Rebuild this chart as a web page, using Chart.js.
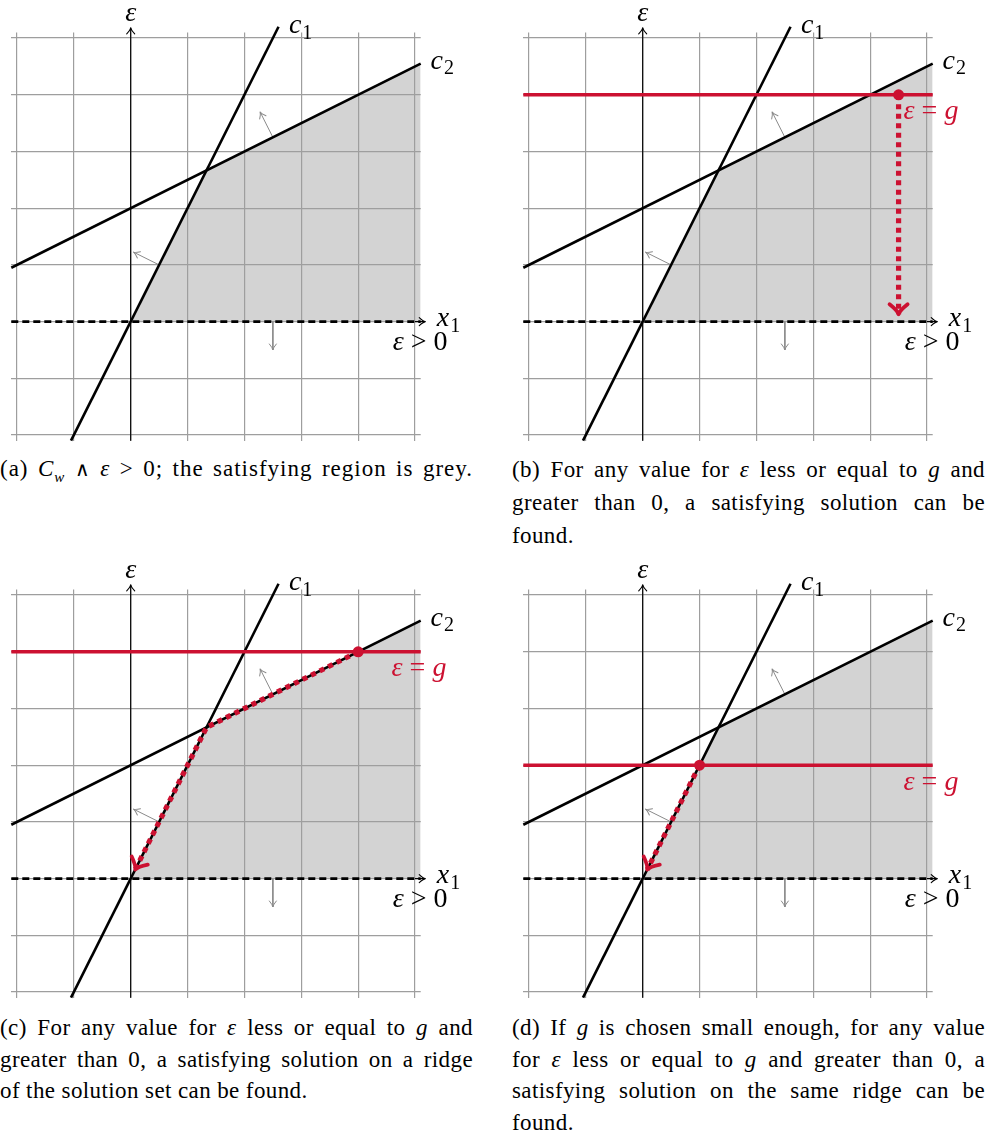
<!DOCTYPE html>
<html><head><meta charset="utf-8">
<script src="https://cdn.jsdelivr.net/npm/chart.js@4.4.0/dist/chart.umd.min.js"></script>
<style>
html,body{margin:0;padding:0;background:#fff;overflow:hidden;}
body{width:989px;height:1135px;position:relative;font-family:"Liberation Serif","Times New Roman",serif;color:#000;}
canvas{position:absolute;}
.cap{position:absolute;width:473px;font-size:23px;line-height:32px;letter-spacing:0.4px;}
.cap div{text-align:justify;text-align-last:justify;white-space:nowrap;}
.cap div.last{text-align-last:left;}
.wedge{font-family:"DejaVu Sans";font-weight:200;font-size:20px;}
</style></head><body>
<canvas id="pa" width="475" height="450" style="left:0;top:0;width:475px;height:450px"></canvas>
<canvas id="pb" width="475" height="450" style="left:512px;top:0;width:475px;height:450px"></canvas>
<canvas id="pc" width="475" height="450" style="left:0;top:557px;width:475px;height:450px"></canvas>
<canvas id="pd" width="475" height="450" style="left:512px;top:557px;width:475px;height:450px"></canvas>

<div class="cap" style="left:0;top:453px;letter-spacing:1px"><div>(a) <i>C<sub style="font-size:15px;line-height:0">w</sub></i> <span class="wedge">∧</span> <i>ε</i> &gt; 0; the satisfying region is grey.</div></div>
<div class="cap" style="left:512px;top:453px;line-height:33px">
<div>(b) For any value for <i>ε</i> less or equal to <i>g</i> and</div>
<div>greater than 0, a satisfying solution can be</div>
<div class="last">found.</div></div>
<div class="cap" style="left:0;top:1012px;line-height:31.5px">
<div>(c) For any value for <i>ε</i> less or equal to <i>g</i> and</div>
<div>greater than 0, a satisfying solution on a ridge</div>
<div class="last">of the solution set can be found.</div></div>
<div class="cap" style="left:512px;top:1012px;line-height:31.5px">
<div>(d) If <i>g</i> is chosen small enough, for any value</div>
<div>for <i>ε</i> less or equal to <i>g</i> and greater than 0, a</div>
<div>satisfying solution on the same ridge can be</div>
<div class="last">found.</div></div>

<script>
// ---- data (in plot units) ----
const gridTicks = [-2, -1, 0, 1, 2, 3, 4, 5];
const axisMin = -2.1, axisMax = 5.1;
const c1Line = [[-1.05, -2.1], [2.6, 5.2]];
const c2Line = [[-2.1, 0.95], [5.1, 4.55]];
const regionTop = [[0, 0], [4/3, 8/3], [5.1, 4.55]];
const epsZeroLine = [[-2.1, 0], [5.1, 0]];
const epsAxis = [[0, -2.1], [0, 5.18]];
const x1AxisTip = [[5.0, 0], [5.18, 0]];
const normalC1 = [[0.5, 1], [0.05, 1.225]];
const normalC2 = [[2.5, 3.25], [2.276, 3.697]];
const normalEps = [[2.5, 0], [2.5, -0.5]];
const gLevels = [null, 4, 4, 2];
const gDots = [null, [4.5, 4], [4, 4], [1, 2]];
const gPaths = [null, [[4.5, 4], [4.5, 0.13]], [[4, 4], [4/3, 8/3], [0.08, 0.16]], [[1, 2], [0.08, 0.16]]];
const axisLabels = [
  {parts: [['ε', 'i']], x: 0, y: 5.42},
  {parts: [['c', 'i'], ['1', 's']], x: 2.98, y: 5.2},
  {parts: [['c', 'i'], ['2', 's']], x: 5.47, y: 4.57},
  {parts: [['x', 'i'], ['1', 's']], x: 5.58, y: 0.03},
  {parts: [['ε', 'i'], [' > ', 'r'], ['0', 'r']], x: 5.09, y: -0.38}
];
const gLabel = {parts: [['ε', 'i'], [' = ', 'r'], ['g', 'i']], x: 5.07, dy: -0.32};

// ---- style ----
const RED = '#cc1131';
const GRID = '#9e9e9e';
const FONT = '"Liberation Serif", "Times New Roman", serif';
const LABEL_SIZE = 28;

function pts(a) { return a.map(p => ({x: p[0], y: p[1]})); }
function lineDs(arr, color, width, order, extra) {
  return Object.assign({data: pts(arr), borderColor: color, borderWidth: width, pointRadius: 0,
    fill: false, order: order, clip: false, tension: 0, borderCapStyle: 'butt'}, extra || {});
}
function drawMath(ctx, parts, cx, cy, size, color) {
  const fonts = {i: 'italic ' + size + 'px ' + FONT, r: size + 'px ' + FONT, s: Math.round(size * 0.7) + 'px ' + FONT};
  let w = 0;
  const ws = parts.map(p => { ctx.font = fonts[p[1]]; const m = ctx.measureText(p[0]).width; w += m; return m; });
  let x = cx - w / 2;
  ctx.save();
  ctx.fillStyle = color; ctx.textAlign = 'left'; ctx.textBaseline = 'alphabetic';
  parts.forEach((p, k) => {
    ctx.font = fonts[p[1]];
    ctx.fillText(p[0], x, cy + size * 0.23 + (p[1] === 's' ? size * 0.2 : 0));
    x += ws[k] + (p[1] === 'i' && parts[k + 1] && parts[k + 1][1] === 's' ? 1 : 0);
  });
  ctx.restore();
}
function drawHead(ctx, x0, y0, x1, y1, o) {
  const ang = Math.atan2(y1 - y0, x1 - x0);
  ctx.save(); ctx.translate(x1, y1); ctx.rotate(ang);
  ctx.strokeStyle = o.color; ctx.lineWidth = o.w; ctx.lineCap = 'round'; ctx.lineJoin = 'round';
  ctx.setLineDash([]);
  ctx.beginPath();
  ctx.moveTo(-o.len, -o.half); ctx.quadraticCurveTo(-o.len * 0.35, -o.half * 0.1, 0, 0);
  ctx.quadraticCurveTo(-o.len * 0.35, o.half * 0.1, -o.len, o.half);
  ctx.stroke(); ctx.restore();
}
const deco = {
  id: 'deco',
  afterDatasetsDraw(chart, args, opts) {
    const ctx = chart.ctx, X = chart.scales.x, Y = chart.scales.y;
    chart.data.datasets.forEach((d, i) => {
      if (!d.arrow) return;
      const el = chart.getDatasetMeta(i).data;
      const a = el[el.length - 2], b = el[el.length - 1];
      drawHead(ctx, a.x, a.y, b.x, b.y, d.arrow);
    });
    axisLabels.forEach(L => drawMath(ctx, L.parts, X.getPixelForValue(L.x), Y.getPixelForValue(L.y), LABEL_SIZE, '#000'));
    const g = gLevels[opts.k];
    if (g !== null) drawMath(ctx, gLabel.parts, X.getPixelForValue(gLabel.x), Y.getPixelForValue(g + gLabel.dy), LABEL_SIZE, RED);
  }
};

function makePanel(id, k) {
  const ds = [];
  ds.push({data: pts(regionTop), fill: 'origin', backgroundColor: '#d3d3d3', borderColor: 'rgba(0,0,0,0)',
    borderWidth: 0, pointRadius: 0, order: 30});
  const thinHead = {len: 6, half: 4, w: 1.1, color: '#000'};
  const greyHead = {len: 6, half: 3.5, w: 1, color: '#8a8a8a'};
  ds.push(lineDs(epsAxis, '#000', 1.2, 20, {arrow: thinHead}));
  ds.push(lineDs(x1AxisTip, '#000', 1.2, 20, {arrow: thinHead}));
  ds.push(lineDs(normalC1, '#8a8a8a', 1, 19, {arrow: greyHead}));
  ds.push(lineDs(normalC2, '#8a8a8a', 1, 19, {arrow: greyHead}));
  ds.push(lineDs(normalEps, '#8a8a8a', 1, 19, {arrow: greyHead}));
  ds.push(lineDs(epsZeroLine, '#000', 2.8, 12, {borderDash: [7, 4]}));
  ds.push(lineDs(c1Line, '#000', 2.6, 10));
  ds.push(lineDs(c2Line, '#000', 2.6, 10));
  if (gLevels[k] !== null) {
    const g = gLevels[k];
    ds.push(lineDs([[axisMin, g], [axisMax, g]], RED, 3.6, 6));
    ds.push(lineDs(gPaths[k], RED, 5.2, 3, {borderDash: [5, 4.5], borderJoinStyle: 'miter',
      arrow: {len: 10, half: 9, w: 3.8, color: RED}}));
    ds.push({data: pts([gDots[k]]), showLine: false, pointRadius: 5.5, pointBackgroundColor: RED,
      pointBorderWidth: 0, order: 1, clip: false});
  }
  const scale = {
    type: 'linear', min: axisMin, max: axisMax,
    afterBuildTicks: s => { s.ticks = gridTicks.map(v => ({value: v})); },
    ticks: {display: false},
    grid: {color: GRID, lineWidth: 1.2, drawTicks: false},
    border: {display: false}
  };
  new Chart(document.getElementById(id), {
    type: 'line',
    data: {datasets: ds},
    options: {
      responsive: false, animation: false, devicePixelRatio: 1, events: [],
      layout: {padding: {left: 11.3, top: 32.4, right: 54.3, bottom: 9.3}},
      plugins: {legend: {display: false}, tooltip: {enabled: false}, filler: {drawTime: 'beforeDraw'}, deco: {k: k}},
      scales: {x: Object.assign({}, scale), y: Object.assign({}, scale)}
    },
    plugins: [deco]
  });
}
function build() { ['pa', 'pb', 'pc', 'pd'].forEach((id, k) => makePanel(id, k)); }
const fontLoads = [
  'italic 28px "Liberation Serif"', '28px "Liberation Serif"', '20px "Liberation Serif"'
].map(f => document.fonts.load(f, 'εcxg0>=12'));
Promise.all(fontLoads).then(build, build);
</script>
</body></html>
